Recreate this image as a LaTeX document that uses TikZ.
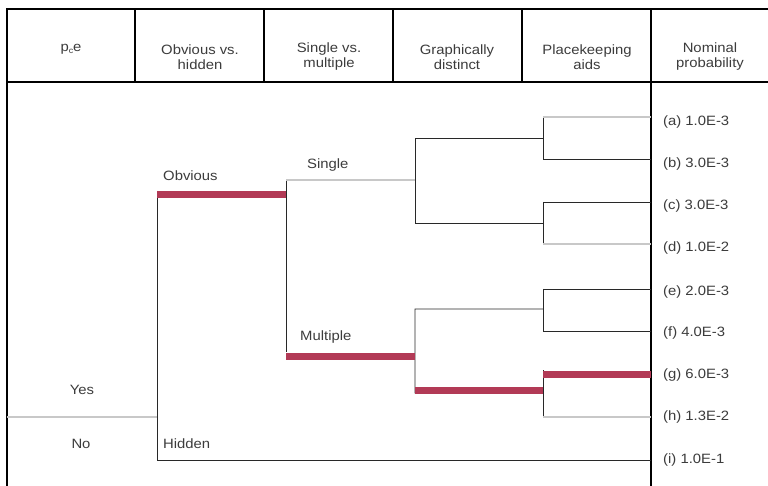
\documentclass[tikz,border=0pt]{standalone}
\usepackage{fontspec}
\setmainfont[FakeStretch=1.1]{Liberation Sans}
\definecolor{barred}{RGB}{178,58,86}
\definecolor{txt}{RGB}{60,60,60}
\definecolor{lgray}{RGB}{200,200,200}
\definecolor{dline}{RGB}{40,40,40}
\begin{document}
\begin{tikzpicture}[x=1pt,y=-1pt,
  lbl/.style={text=txt,font=\fontsize{13.5}{16}\selectfont,inner sep=0pt},
  hdr/.style={lbl,align=center},
  frame/.style={line width=2pt,draw=black},
  divider/.style={line width=1.3pt,draw=black},
  tree/.style={line width=0.9pt,draw=dline},
  faint/.style={line width=1.2pt,draw=lgray},
  hot/.style={line width=7pt,draw=barred}]
\useasboundingbox (0,0) rectangle (768,486);
\fill[white] (0,0) rectangle (768,486);
% frame
\coordinate (TL) at (7,9);
\coordinate (TR) at (770,9);
\coordinate (BL) at (7,488);
\coordinate (HL) at (7,82);
\coordinate (HR) at (770,82);
\draw[frame] (TR) -- (TL) -- (BL);
\draw[divider] (HL) -- (HR);
\foreach \x/\n in {135/a,264/b,393/c,522/d}{
  \coordinate (dt\n) at (\x,9); \coordinate (db\n) at (\x,82);
  \draw[divider] (dt\n) -- (db\n);}
\coordinate (pt) at (651,9); \coordinate (pb) at (651,488);
\draw[divider] (pt) -- (pb);
% header
\node[hdr] (h1) at (71,49) {p\raisebox{-2pt}{\fontsize{8}{8}\selectfont c}e};
\node[hdr] (h2) at (200,57) {Obvious vs.\\[-1pt]hidden};
\node[hdr] (h3) at (329,57) {Single vs.\\[-1pt]multiple};
\node[hdr] (h4) at (457,57) {Graphically\\[-1pt]distinct};
\node[hdr] (h5) at (587,57) {Placekeeping\\[-1pt]aids};
\node[hdr] (h6) at (710,57) {Nominal\\[-1pt]probability};
% junction coordinates
\coordinate (o0) at (157,194.5);
\coordinate (o1) at (286,194.5);
\coordinate (oh) at (157,460);
\coordinate (s0) at (286,180);
\coordinate (s1) at (415,180);
\coordinate (m0) at (286,356);
\coordinate (m1) at (415,356);
\coordinate (g1t) at (415,138);
\coordinate (g1b) at (415,223);
\coordinate (p1t) at (543,138);
\coordinate (p1b) at (543,223);
\coordinate (g2t) at (415,309);
\coordinate (g2b) at (415,393);
\coordinate (p2t) at (543,309);
\coordinate (p2b) at (543,391);
\coordinate (qa) at (543,117);
\coordinate (qb) at (543,159);
\coordinate (qc) at (543,202);
\coordinate (qd) at (543,244);
\coordinate (qe) at (543,289);
\coordinate (qf) at (543,331);
\coordinate (qg) at (543,374);
\coordinate (qh) at (543,417);
\coordinate (ea) at (651,117);
\coordinate (eb) at (651,159);
\coordinate (ec) at (651,202);
\coordinate (ed) at (651,244);
\coordinate (ee) at (651,289);
\coordinate (ef) at (651,331);
\coordinate (eg) at (651,374);
\coordinate (eh) at (651,417);
\coordinate (ei) at (651,460);
\coordinate (yn0) at (7,417);
\coordinate (yn1) at (157,417);
% tree lines
\draw[faint] (yn0) -- (yn1);
\draw[tree] (157,191) -- (oh) -- (ei);
\draw[tree] (s0) -- (286,352);
\draw[faint] (s0) -- (s1);
\draw[tree] (p1t) -- (g1t) -- (g1b) -- (p1b);
\draw[tree] (qa) -- (qb); \draw[faint] (qa) -- (ea); \draw[tree] (qb) -- (eb);
\draw[tree] (qc) -- (qd); \draw[tree] (qc) -- (ec); \draw[faint] (qd) -- (ed);
\draw[tree] (p2t) -- (g2t) -- (g2b) -- (p2b);
\draw[tree] (qe) -- (qf); \draw[tree] (qe) -- (ee); \draw[tree] (qf) -- (ef);
\draw[tree] (543,370) -- (qh); \draw[faint] (qh) -- (eh);
% highlighted path
\draw[hot] (o0) -- (o1);
\draw[hot] (m0) -- (m1);
\draw[tree] (g2b) -- (543,393);
\draw[hot] (415,390) -- (543,390);
\draw[hot] (qg) -- (eg);
% branch labels
\node[lbl,anchor=west] (obv) at (163,176) {Obvious};
\node[lbl,anchor=west] (sng) at (307,165) {Single};
\node[lbl,anchor=west] (mul) at (300,337) {Multiple};
\node[lbl,anchor=west] (hid) at (163,444) {Hidden};
\node[lbl] (yes) at (82,390) {Yes};
\node[lbl] (no) at (81,444) {No};
% probabilities
\foreach \n/\y/\t in {a/122/{(a) 1.0E-3},b/164/{(b) 3.0E-3},c/206/{(c) 3.0E-3},d/248/{(d) 1.0E-2},e/292/{(e) 2.0E-3},f/333/{(f) 4.0E-3},g/375/{(g) 6.0E-3},h/417/{(h) 1.3E-2},i/460/{(i) 1.0E-1}}
  \node[lbl,anchor=west] (lab\n) at (663,\y) {\t};
\end{tikzpicture}
\end{document}
